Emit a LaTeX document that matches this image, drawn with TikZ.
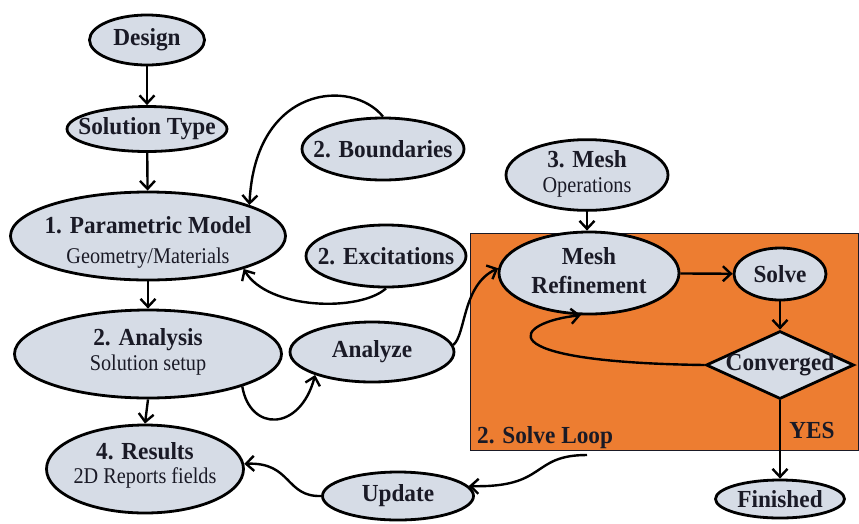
\documentclass[tikz,border=0pt]{standalone}
\usepackage{fontspec}
\setmainfont[BoldFeatures={FakeStretch=0.95}]{Liberation Serif}
\newfontfamily\subfont[FakeStretch=0.9]{Liberation Serif}
\usetikzlibrary{shapes.geometric,arrows.meta}
\definecolor{nodefill}{HTML}{D6DCE6}
\definecolor{loopfill}{HTML}{ED7D31}
\definecolor{ink}{HTML}{1A1A26}
\newcommand{\tln}[3]{\raisebox{#1}[\height][\depth]{\makebox[0pt]{\begin{tabular}{@{}c@{}}#2\\{\fontsize{22.5}{20}\subfont\mdseries #3}\end{tabular}}}}
\newcommand{\oln}[1]{\makebox[0pt]{#1}}
\tikzset{
  ell/.style={ellipse, draw=black, line width=2.8pt, fill=nodefill, inner sep=0pt, text=ink},
  ttl/.style={font=\fontsize{24.5}{#1}\selectfont\bfseries},
  ttl/.default=26,
  arr/.style={line width=2.4pt, draw=black, -{Straight Barb[length=8pt,width=15pt,line width=2.4pt]}},
}
\begin{document}
\begin{tikzpicture}[x=1pt,y=-1pt]
\useasboundingbox (0,0) rectangle (859,523);
% solve loop box
\node[draw=ink, line width=0.8pt, fill=loopfill, minimum width=388pt, minimum height=217pt, anchor=north west, inner sep=0pt] (loop) at (470,233) {};
\node[ttl, text=ink, anchor=base west, inner sep=0pt] (looplbl) at (477,443) {2. Solve Loop};
% nodes
\node[ell, ttl, minimum width=115pt, minimum height=50pt] (design) at (147,40) {\oln{Design}};
\node[ell, ttl, minimum width=160pt, minimum height=45pt] (soltype) at (147,129) {\oln{Solution Type}};
\node[ell, ttl=30, minimum width=275pt, minimum height=88pt] (param) at (148,236) {\tln{-6pt}{1. Parametric Model}{Geometry/Materials}};
\node[ell, ttl=25, minimum width=267pt, minimum height=88pt] (analysis) at (148,354) {\tln{1pt}{2. Analysis}{Solution setup}};
\node[ell, ttl=24, minimum width=197pt, minimum height=88pt] (results) at (145,469) {\tln{2pt}{4. Results}{2D Reports fields}};
\node[ell, ttl, minimum width=162pt, minimum height=62pt] (bound) at (383,149) {\oln{2. Boundaries}};
\node[ell, ttl, minimum width=160pt, minimum height=62pt] (exc) at (386,256) {\oln{2. Excitations}};
\node[ell, ttl, minimum width=164pt, minimum height=60pt] (analyze) at (372,352) {\oln{Analyze}};
\node[ell, ttl, minimum width=151pt, minimum height=48pt] (update) at (398,496) {\oln{Update}};
\node[ell, ttl=25, minimum width=162pt, minimum height=56pt] (meshops) at (587,175) {\tln{0pt}{3. Mesh}{Operations}};
\node[ell, ttl=29, minimum width=180pt, minimum height=60pt] (mref) at (589,273) {\oln{\begin{tabular}{@{}c@{}}Mesh\\Refinement\end{tabular}}};
\node[ell, ttl, minimum width=92pt, minimum height=52pt] (solve) at (780,274) {\oln{Solve}};
\node[diamond, draw=black, line width=2.8pt, fill=nodefill, minimum width=148pt, minimum height=68pt, inner sep=0pt] (conv) at (780,365) {};
\node[ttl, text=ink, inner sep=0pt] (convtxt) at (conv.center) {Converged};
\node[ell, ttl, minimum width=129pt, minimum height=38pt] (finished) at (780,499) {\oln{Finished}};
\node[ttl, text=ink, inner sep=0pt] (yes) at (812,430) {YES};
\coordinate (loopout) at (587,455);
% straight connectors
\draw[arr] (design) -- (soltype);
\draw[arr] (soltype) -- (param);
\draw[arr] (param) -- (analysis);
\draw[arr] (analysis.south) -- (results.north);
\draw[arr] (meshops) -- (meshops |- mref.north);
\draw[arr] (mref) -- (solve);
\draw[arr] (solve) -- (conv);
\draw[arr] (conv) -- (finished);
% curved connectors
\draw[arr] (bound.north) .. controls (352,78) and (255,85) .. (param.17);
\draw[arr] (exc.south) .. controls (360,312) and (268,310) .. (param.-19);
\draw[arr] (analysis.-19) .. controls (250,432) and (300,432) .. (analyze.202);
\draw[arr] (analyze.5) .. controls (466,335) and (462,285) .. (mref.177);
\draw[arr] (conv.west) .. controls (480,362) and (515,322) .. (mref.259);
\draw[arr] (loopout) .. controls (530,455) and (548,488) .. (update.8);
\draw[arr] (update.west) .. controls (285,497) and (292,462) .. (results.3);
\end{tikzpicture}
\end{document}
